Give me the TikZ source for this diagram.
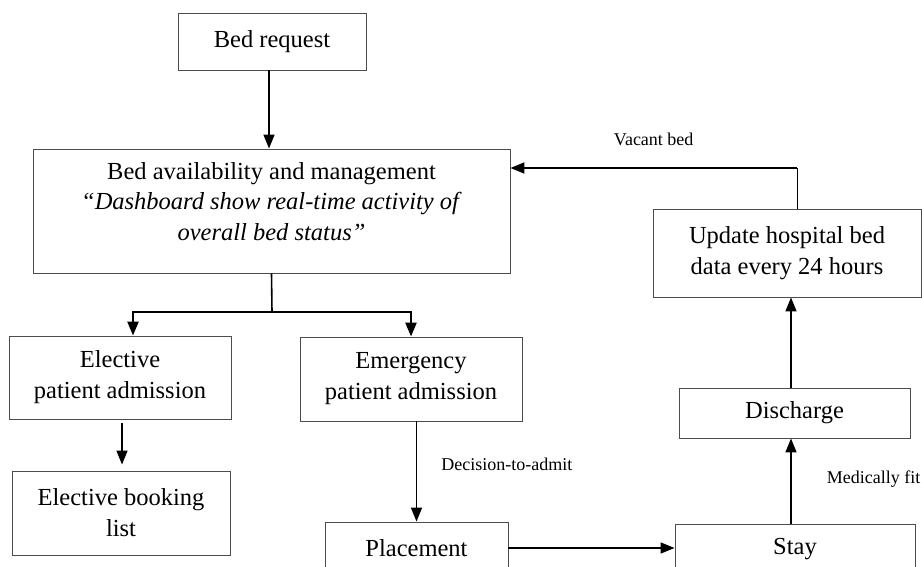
\documentclass[tikz,border=0pt]{standalone}
\usepackage{fontspec}
\setmainfont{Liberation Serif}
\usetikzlibrary{arrows.meta}
\newcommand{\boxtxt}{\fontsize{24.5}{31}\selectfont}
\newcommand{\lbltxt}{\fontsize{18}{22}\selectfont}
\tikzset{
  box/.style = {draw = black!70, line width = 0.9pt, align = center, font = \boxtxt, inner sep = 2pt},
  flow/.style = {line width = 1.6pt, -{Triangle[length = 14pt, width = 11pt]}},
  lbl/.style = {font = \lbltxt, inner sep = 0pt}
}

\begin{document}
\begin{tikzpicture}[x = 1pt, y = -1pt]
    \useasboundingbox (0,0) rectangle (922,567);
    \clip (0,0) rectangle (922,567);
    % boxes
    \node [box, minimum width = 188pt, minimum height = 57pt] (req) at (272,41.5) {Bed request};
    \node [box, minimum width = 477pt, minimum height = 124pt] (avail) at (271.5,211)
      {Bed availability and management\\[-1pt] \textit{``Dashboard show real-time activity of}\\ \textit{overall bed status''}\\[-13pt]\mbox{}};
    \node [box, minimum width = 268pt, minimum height = 88pt] (upd) at (787,253) {Update hospital bed\\ data every 24 hours};
    \node [box, minimum width = 222pt, minimum height = 83pt] (elect) at (120,377.5) {Elective\\ patient admission};
    \node [box, minimum width = 222pt, minimum height = 84pt] (emerg) at (411,379) {Emergency\\ patient admission};
    \node [box, minimum width = 218pt, minimum height = 84pt] (book) at (121,513) {Elective booking\\ list};
    \node [box, minimum width = 183pt, minimum height = 52pt] (place) at (416.5,548) {Placement};
    \node [box, minimum width = 240pt, minimum height = 50pt] (stay) at (795,549) {Stay};
    \node [box, minimum width = 231pt, minimum height = 50pt] (dis) at (794.5,413) {Discharge};
    \coordinate (vac) at (797,168);
    \coordinate (br) at (272,312);
    % paths
    \draw [flow] (req.south -| 269,0) -- (avail.north -| 269,0);
    \draw [line width = 1pt] (upd.north -| vac) -- (vac);
    \draw [flow, line width = 2pt] (vac) -- (vac -| avail.east) node [lbl, pos = 0.5, above = 21pt] {Vacant bed};
    \draw [line width = 1.6pt] (avail.south) -- (br);
    \draw [flow, line width = 2.4pt] (br) -| ([xshift = 13pt]elect.north);
    \draw [flow, line width = 2.4pt] (br) -| (emerg.north);
    \draw [flow] ([yshift = -4pt]elect.south -| 122,0) -- ([yshift = 6pt]book.north -| 122,0);
    \draw [flow] (place.north |- emerg.south) -- (place.north) node [lbl, pos = 0.43, right = 24pt] {Decision-to-admit};
    \draw [flow] (place.east) -- (stay.west |- place.east);
    \draw [flow] (stay.north -| 791,0) -- (dis.south -| 791,0) node [lbl, pos = 0.52, right = 35pt] {Medically fit};
    \draw [flow] (dis.north -| 791,0) -- (upd.south -| 791,0);
\end{tikzpicture}
\end{document}
